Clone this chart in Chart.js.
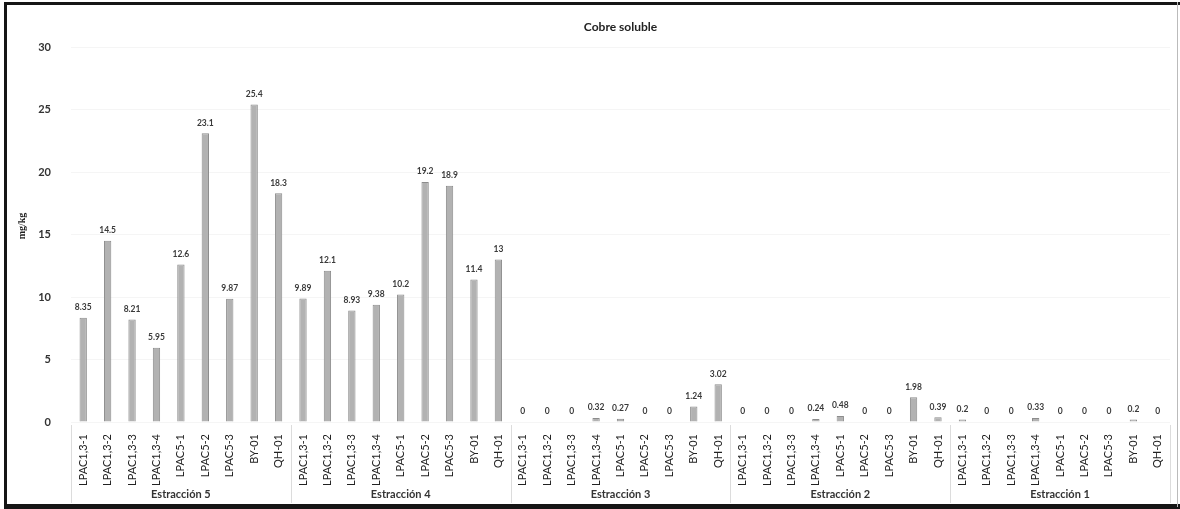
<!DOCTYPE html>
<html>
<head>
<meta charset="utf-8">
<script src="https://cdn.jsdelivr.net/npm/chart.js@4.4.1/dist/chart.umd.min.js"></script>
<style>
  body { margin: 0; background: #fff; }
  #wrap { width: 1180px; height: 509px; }
</style>
</head>
<body>
<div id="wrap"><canvas id="cobreChart" width="1180" height="509"></canvas></div>
<script>
// Data
const groups = ['Estracción 5', 'Estracción 4', 'Estracción 3', 'Estracción 2', 'Estracción 1'];
const samples = ['LPAC1,3-1', 'LPAC1,3-2', 'LPAC1,3-3', 'LPAC1,3-4', 'LPAC5-1', 'LPAC5-2', 'LPAC5-3', 'BY-01', 'QH-01'];
const estraccion5 = [8.35, 14.5, 8.21, 5.95, 12.6, 23.1, 9.87, 25.4, 18.3];
const estraccion4 = [9.89, 12.1, 8.93, 9.38, 10.2, 19.2, 18.9, 11.4, 13];
const estraccion3 = [0, 0, 0, 0.32, 0.27, 0, 0, 1.24, 3.02];
const estraccion2 = [0, 0, 0, 0.24, 0.48, 0, 0, 1.98, 0.39];
const estraccion1 = [0.2, 0, 0, 0.33, 0, 0, 0, 0.2, 0];
const yTicks = [0, 5, 10, 15, 20, 25, 30];

const labels = [];
groups.forEach(() => samples.forEach(s => labels.push(s)));
const values = [].concat(estraccion5, estraccion4, estraccion3, estraccion2, estraccion1);

const fontFamily = 'Lato, "Open Sans", sans-serif';

// value labels above bars
const valueLabels = {
    id: 'valueLabels',
    afterDatasetsDraw(chart) {
        const ctx = chart.ctx;
        const meta = chart.getDatasetMeta(0);
        ctx.save();
        ctx.font = 'bold 8.5px ' + fontFamily;
        ctx.fillStyle = '#3a3a3a';
        ctx.textAlign = 'center';
        ctx.textBaseline = 'bottom';
        meta.data.forEach((bar, i) => {
            ctx.fillText(String(values[i]), bar.x, bar.y - 6);
        });
        ctx.restore();
    }
};

// title, y title, group labels, separators, frame
const decorations = {
    id: 'decorations',
    beforeDraw(chart) {
        const ctx = chart.ctx;
        ctx.save();
        ctx.fillStyle = '#fff';
        ctx.fillRect(0, 0, chart.width, chart.height);
        ctx.restore();
    },
    afterDraw(chart) {
        const ctx = chart.ctx;
        const area = chart.chartArea;
        ctx.save();

        // title
        ctx.font = 'bold 12px ' + fontFamily;
        ctx.fillStyle = '#222';
        ctx.textAlign = 'center';
        ctx.textBaseline = 'middle';
        ctx.fillText('Cobre soluble', (area.left + area.right) / 2, 27);

        // y axis title
        ctx.save();
        ctx.translate(22, 226);
        ctx.rotate(-Math.PI / 2);
        ctx.font = 'bold 10px "Liberation Serif", serif';
        ctx.fillText('mg/kg', 0, 0);
        ctx.restore();

        // group separators and labels
        const step = (area.right - area.left) / labels.length;
        ctx.strokeStyle = '#dcdcdc';
        ctx.lineWidth = 1;
        for (let g = 0; g <= groups.length; g++) {
            const gx = Math.round(area.left + g * samples.length * step) + 0.5;
            ctx.beginPath();
            ctx.moveTo(gx, area.bottom + 3);
            ctx.lineTo(gx, 503);
            ctx.stroke();
        }
        ctx.font = 'bold 11px ' + fontFamily;
        ctx.fillStyle = '#333';
        groups.forEach((g, i) => {
            const cx = area.left + (i + 0.5) * samples.length * step;
            ctx.fillText(g, cx, 494);
        });

        // frame
        ctx.fillStyle = '#151515';
        ctx.fillRect(4, 2, 3, 505);
        ctx.fillRect(4, 2, 1176, 3);
        ctx.fillRect(4, 504, 1176, 5);
        ctx.fillStyle = '#bbb';
        ctx.fillRect(1177, 2, 1, 505);
        ctx.restore();
    }
};

document.addEventListener('DOMContentLoaded', function() {
    const ctx = document.getElementById('cobreChart');
    new Chart(ctx, {
        type: 'bar',
        data: {
            labels: labels,
            datasets: [{
                label: 'Cobre soluble',
                data: values,
                backgroundColor: '#b2b2b2',
                borderColor: '#8c8c8c',
                borderWidth: 1,
                barPercentage: 0.3,
                categoryPercentage: 1
            }]
        },
        options: {
            responsive: false,
            animation: false,
            layout: { padding: { top: 47, right: 10, bottom: 0, left: 0 } },
            plugins: {
                legend: { display: false },
                title: { display: false },
                tooltip: { enabled: false }
            },
            scales: {
                y: {
                    min: 0,
                    max: 30,
                    afterFit(scale) { scale.width = 71; },
                    afterBuildTicks(scale) { scale.ticks = yTicks.map(v => ({ value: v })); },
                    ticks: {
                        padding: 20,
                        color: '#333',
                        font: { family: fontFamily, size: 11, weight: 'bold' }
                    },
                    grid: { color: 'rgba(0,0,0,0.04)', drawTicks: false },
                    border: { display: false }
                },
                x: {
                    afterFit(scale) { scale.height = 87; },
                    ticks: {
                        minRotation: 90,
                        maxRotation: 90,
                        autoSkip: false,
                        padding: 4,
                        color: '#222',
                        font: { family: fontFamily, size: 11 }
                    },
                    grid: { display: false },
                    border: { display: false }
                }
            }
        },
        plugins: [valueLabels, decorations]
    });
});
</script>
</body>
</html>
